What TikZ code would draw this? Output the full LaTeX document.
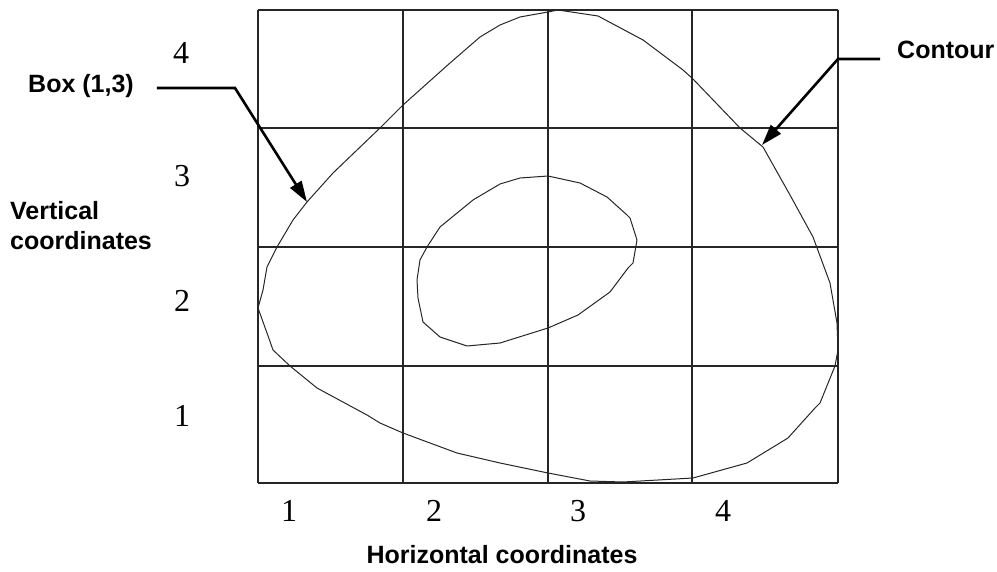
\documentclass[tikz,border=0pt]{standalone}
\usepackage{fontspec}
\setmainfont{Liberation Serif}
\newfontfamily\lsans{Liberation Sans}
\usetikzlibrary{arrows.meta}
\begin{document}
\begin{tikzpicture}[x=1pt,y=-1pt,
  gridline/.style={line width=1.2pt,black!85},
  curve/.style={line width=1pt,black!85,line join=round},
  leader/.style={line width=2.6pt,line join=miter,-{Triangle[length=21pt,width=13pt]}},
  lbl/.style={font=\lsans\bfseries\fontsize{25}{30}\selectfont,inner sep=0pt},
  num/.style={font=\fontsize{32}{36}\selectfont,inner sep=0pt}]
\useasboundingbox (0,0) rectangle (997,572);
% grid
\foreach \x in {258,403,548,692,838} \draw[gridline] (\x,10) -- (\x,483);
\foreach \y in {10,128,247,366,483} \draw[gridline] (258,\y) -- (838,\y);
% outer contour
\draw[curve] (558,10) -- (598,16) -- (643,40) -- (683,70) -- (693,79) -- (740,128) -- (763,147)
  -- (790,195) -- (813,237) -- (830,283) -- (837,323) -- (838,350) -- (835,366) -- (820,403)
  -- (815,408) -- (788,438) -- (747,463) -- (693,478) -- (623,482) -- (590,481) -- (548,473)
  -- (500,463) -- (457,453) -- (403,433) -- (380,423) -- (367,415) -- (317,388) -- (290,366)
  -- (273,350) -- (267,333) -- (258,308) -- (263,290) -- (267,267) -- (277,247) -- (293,220)
  -- (307,202) -- (333,173) -- (380,128) -- (403,105) -- (450,63) -- (480,37) -- (500,25)
  -- (520,17) -- (548,12) -- cycle;
% inner contour
\draw[curve] (548,176) -- (580,183) -- (607,197) -- (627,215) -- (630,218) -- (637,240) -- (633,263)
  -- (628,268) -- (610,292) -- (578,315) -- (548,328) -- (500,343) -- (467,346) -- (440,337)
  -- (423,322) -- (418,298) -- (417,280) -- (420,260) -- (427,247) -- (440,227) -- (473,200)
  -- (500,184) -- (520,178) -- cycle;
% vertical numbers
\node[num] (v4) at (181,53) {4};
\node[num] (v3) at (182,176) {3};
\node[num] (v2) at (182,301) {2};
\node[num] (v1) at (182,416) {1};
% horizontal numbers
\node[num] (h1) at (289,511) {1};
\node[num] (h2) at (434,511) {2};
\node[num] (h3) at (578,511) {3};
\node[num] (h4) at (723,511) {4};
% labels
\node[lbl,anchor=base west] (boxlbl) at (28,93) {Box (1,3)};
\node[lbl,anchor=base west] (contlbl) at (897,59) {Contour};
\node[lbl,anchor=north west,align=left] (vlbl) at (10,201) {Vertical\\coordinates};
\node[lbl,anchor=base] (hlbl) at (502,563) {Horizontal coordinates};
% leaders
\coordinate (boxtip) at (307,202);
\coordinate (conttip) at (762,145);
\draw[leader] ([xshift=23pt,yshift=5pt]boxlbl.base east) -- (235,88) -- (boxtip);
\draw[leader] ([xshift=-17pt]contlbl.base west) -- (838,59) -- (conttip);
\end{tikzpicture}
\end{document}
